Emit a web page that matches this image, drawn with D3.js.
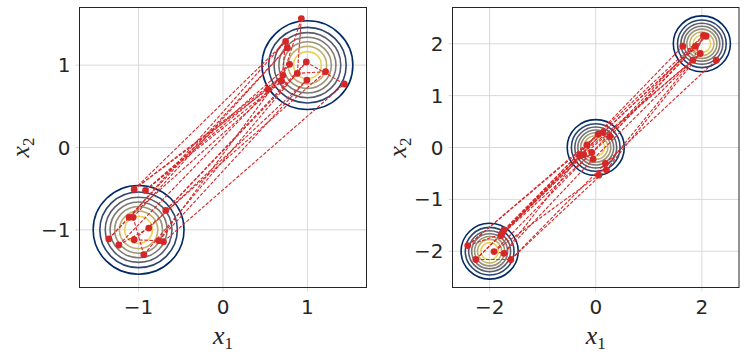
<!DOCTYPE html>
<html>
<head>
<meta charset="utf-8">
<script src="https://cdn.jsdelivr.net/npm/d3@7"></script>
<style>
  body { margin: 0; background: #fff; }
  text { font-family: "DejaVu Sans", sans-serif; }
</style>
</head>
<body>
<script>
// gaussian mixture used for the contour rings
const sigma = 0.3;
const levels = [0.2, 0.31, 0.42, 0.53, 0.64, 0.75, 0.86];

// left panel: two modes
const leftCenters = [[-1, -1], [1, 1]];
const leftX = [-1.053, -0.918, -0.678, -1.112, -1.065, -0.879, -1.353, -1.234, -1.053, -0.761, -0.705, -0.938,
  0.928, 0.742, 0.762, 0.987, 0.789, 1.215, 0.880, 0.710, 0.695, 0.994, 1.437, 0.533];
const leftY = [-0.509, -0.521, -0.764, -0.848, -0.848, -0.978, -1.110, -1.184, -1.120, -1.132, -1.144, -1.302,
  1.564, 1.288, 1.212, 1.038, 1.010, 0.921, 0.900, 0.876, 0.807, 0.819, 0.771, 0.707];
const leftLinks = [[0, 23], [0, 19], [1, 20], [1, 16], [3, 13], [4, 14], [2, 18], [2, 15], [5, 21], [6, 14],
  [7, 19], [8, 17], [9, 21], [10, 22], [11, 15], [9, 16], [0, 13], [1, 19], [3, 20],
  [4, 11], [7, 5], [8, 9], [6, 3], [12, 18], [12, 19], [22, 15], [17, 18], [13, 20]];
const leftTicksX = [-1, 0, 1];
const leftTicksY = [-1, 0, 1];

// right panel: three modes
const rightCenters = [[-2, -2], [0, 0], [2, 2]];
const rightX = [-2.412, -2.26, -1.917, -1.729, -1.773, -1.729, -1.60, -1.79,
  0.044, 0.138, 0.263, -0.163, -0.30, -0.226, -0.075, -0.05, 0.182, 0.201, 0.056,
  1.64, 1.88, 2.03, 2.08, 1.97, 1.83, 2.27];
const rightY = [-1.892, -2.16, -2.008, -1.59, -1.667, -2.04, -2.16, -1.70,
  0.256, 0.288, 0.21, 0.05, -0.16, -0.14, -0.096, -0.225, -0.308, -0.43, -0.533,
  1.954, 1.954, 2.16, 2.146, 1.813, 1.685, 1.685];
const rightLinks = [[0, 11], [0, 8], [1, 12], [2, 14], [3, 8], [3, 9], [4, 13], [7, 10], [5, 15], [6, 16],
  [6, 17], [2, 18], [1, 13], [5, 12], [4, 11], [7, 9],
  [8, 21], [9, 22], [10, 20], [11, 19], [12, 24], [13, 23], [14, 21], [15, 24], [16, 25], [17, 23],
  [18, 24], [10, 22], [9, 20],
  [0, 4], [1, 6], [2, 5], [19, 23], [24, 21]];
const rightTicksX = [-2, 0, 2];
const rightTicksY = [-2, -1, 0, 1, 2];

const width = 748, height = 357;
const red = "#d62728";

const svg = d3.select("body").append("svg")
  .attr("width", width)
  .attr("height", height);

function fmt(v) {
  return v < 0 ? "\u2212" + Math.abs(v) : String(v);
}

function drawPanel(p) {
  const x = d3.scaleLinear().domain(p.domain).range([p.left, p.right]);
  const y = d3.scaleLinear().domain(p.domain).range([p.bottom, p.top]);
  const g = svg.append("g");

  g.append("clipPath").attr("id", p.id)
    .append("rect")
    .attr("x", p.left).attr("y", p.top)
    .attr("width", p.right - p.left).attr("height", p.bottom - p.top);

  // grid
  g.selectAll(".gx").data(p.ticksX).enter().append("line")
    .attr("x1", d => x(d)).attr("x2", d => x(d))
    .attr("y1", p.top).attr("y2", p.bottom + 4)
    .attr("stroke", "#d9d9d9").attr("stroke-width", 1);
  g.selectAll(".gy").data(p.ticksY).enter().append("line")
    .attr("y1", d => y(d)).attr("y2", d => y(d))
    .attr("x1", p.left - 4).attr("x2", p.right)
    .attr("stroke", "#d9d9d9").attr("stroke-width", 1);

  const plot = g.append("g").attr("clip-path", `url(#${p.id})`);

  // contour rings, outer (low density) navy to inner yellow
  const rings = [];
  p.centers.forEach(c => {
    levels.forEach((lv, i) => {
      rings.push({ cx: c[0], cy: c[1], r: sigma * Math.sqrt(-2 * Math.log(lv)), t: i / (levels.length - 1) });
    });
  });
  plot.selectAll(".ring").data(rings).enter().append("ellipse")
    .attr("cx", d => x(d.cx)).attr("cy", d => y(d.cy))
    .attr("rx", d => x(d.r) - x(0)).attr("ry", d => y(0) - y(d.r))
    .attr("fill", "none")
    .attr("stroke", d => d3.interpolateCividis(0.06 + d.t * 0.84))
    .attr("stroke-width", 1.6);

  // pairing lines
  plot.selectAll(".link").data(p.links).enter().append("line")
    .attr("x1", d => x(p.xs[d[0]])).attr("y1", d => y(p.ys[d[0]]))
    .attr("x2", d => x(p.xs[d[1]])).attr("y2", d => y(p.ys[d[1]]))
    .attr("stroke", red).attr("stroke-width", 1.1)
    .attr("stroke-dasharray", "3.5,1.6");

  plot.selectAll(".pt").data(p.xs).enter().append("circle")
    .attr("cx", d => x(d)).attr("cy", (d, i) => y(p.ys[i]))
    .attr("r", 3.4).attr("fill", red);

  // frame
  g.append("rect")
    .attr("x", p.left).attr("y", p.top)
    .attr("width", p.right - p.left).attr("height", p.bottom - p.top)
    .attr("fill", "none").attr("stroke", "#262626").attr("stroke-width", 1);

  // tick labels
  g.selectAll(".tx").data(p.ticksX).enter().append("text")
    .attr("x", d => x(d)).attr("y", p.bottom + 26)
    .attr("text-anchor", "middle")
    .attr("font-size", 20).attr("fill", "#262626")
    .text(fmt);
  g.selectAll(".ty").data(p.ticksY).enter().append("text")
    .attr("x", p.left - 9).attr("y", d => y(d) + 7)
    .attr("text-anchor", "end")
    .attr("font-size", 20).attr("fill", "#262626")
    .text(fmt);

  // axis titles
  const xl = g.append("text")
    .attr("x", (p.left + p.right) / 2).attr("y", p.bottom + 56)
    .attr("text-anchor", "middle")
    .style("font-family", "'Liberation Serif', serif")
    .attr("font-size", 26).attr("fill", "#262626");
  xl.append("tspan").attr("font-style", "italic").text("x");
  xl.append("tspan").attr("font-size", 17).attr("dy", 5).text("1");

  const yl = g.append("text")
    .attr("transform", `translate(${p.left - p.ylabOff},${(p.top + p.bottom) / 2}) rotate(-90)`)
    .attr("text-anchor", "middle")
    .style("font-family", "'Liberation Serif', serif")
    .attr("font-size", 26).attr("fill", "#262626");
  yl.append("tspan").attr("font-style", "italic").text("x");
  yl.append("tspan").attr("font-size", 17).attr("dy", 5).text("2");
}

drawPanel({
  id: "clipL", domain: [-1.7, 1.7], left: 79.5, right: 366.5, top: 7.5, bottom: 287.5,
  centers: leftCenters, xs: leftX, ys: leftY, links: leftLinks,
  ticksX: leftTicksX, ticksY: leftTicksY, ylabOff: 51
});

drawPanel({
  id: "clipR", domain: [-2.7, 2.7], left: 452.5, right: 739, top: 7.5, bottom: 287.5,
  centers: rightCenters, xs: rightX, ys: rightY, links: rightLinks,
  ticksX: rightTicksX, ticksY: rightTicksY, ylabOff: 47
});
</script>
</body>
</html>
